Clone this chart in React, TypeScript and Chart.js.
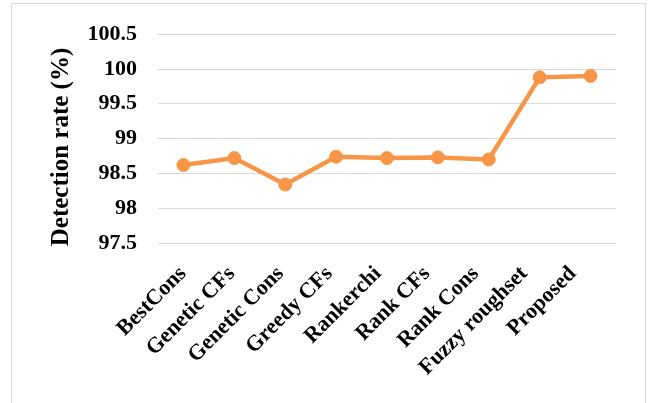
import React, { useEffect, useRef } from "react";
import { Chart, registerables } from "chart.js";

Chart.register(...registerables);

const categories = [
  "BestCons",
  "Genetic CFs",
  "Genetic Cons",
  "Greedy CFs",
  "Rankerchi",
  "Rank CFs",
  "Rank Cons",
  "Fuzzy roughset",
  "Proposed",
];
const detectionRate = [98.62, 98.72, 98.34, 98.74, 98.72, 98.73, 98.7, 99.88, 99.9];
const yTicks = [97.5, 98, 98.5, 99, 99.5, 100, 100.5];
const yTitle = "Detection rate (%)";

const FAMILY = "'Liberation Serif', 'Times New Roman', serif";

export default function App() {
  const ref = useRef<HTMLCanvasElement>(null);

  useEffect(() => {
    if (!ref.current) return;
    const titlePlugin = {
      id: "ytitle",
      afterDraw(chart: any) {
        const ctx = chart.ctx;
        ctx.save();
        ctx.translate(62, 147);
        ctx.rotate(-Math.PI / 2);
        ctx.font = `bold 25px ${FAMILY}`;
        ctx.fillStyle = "#000";
        ctx.textAlign = "center";
        ctx.textBaseline = "middle";
        ctx.fillText(yTitle, 0, 0);
        ctx.restore();
      },
    };
    const chart = new Chart(ref.current, {
      type: "line",
      data: {
        labels: categories,
        datasets: [
          {
            data: detectionRate,
            borderColor: "#F79646",
            backgroundColor: "#F79646",
            borderWidth: 4.5,
            pointRadius: 6.5,
            pointBorderWidth: 1,
            pointBackgroundColor: "#F79646",
            pointBorderColor: "#F79646",
            tension: 0,
            xAxisID: "x",
            yAxisID: "y",
          },
        ],
      },
      options: {
        responsive: false,
        animation: false,
        layout: { padding: { top: 32, right: 33, bottom: 0, left: 0 } },
        plugins: { legend: { display: false }, tooltip: { enabled: false } },
        scales: {
          x: { type: "category", display: false, offset: true },
          xl: {
            type: "linear",
            position: "bottom",
            min: -0.513,
            max: 8.882,
            grid: { display: false },
            border: { display: false },
            ticks: {
              stepSize: 1,
              includeBounds: false,
              autoSkip: false,
              minRotation: 45,
              maxRotation: 45,
              padding: 10,
              color: "#000",
              font: { family: FAMILY, size: 22, weight: "bold" },
              callback: (v: any) => categories[v] ?? "",
            },
            afterFit: (s: any) => {
              s.height = 160;
            },
          },
          y: {
            min: 97.5,
            max: 100.5,
            afterBuildTicks: (s: any) => {
              s.ticks = yTicks.map((v) => ({ value: v }));
            },
            grid: { color: "#D9D9D9", lineWidth: 1, drawTicks: false },
            border: { display: false },
            ticks: {
              padding: 21,
              color: "#000",
              font: { family: FAMILY, size: 22, weight: "bold" },
              callback: (v: any) => String(v),
            },
            afterFit: (s: any) => {
              s.width = 158;
            },
          },
        },
      } as any,
      plugins: [titlePlugin],
    });
    return () => chart.destroy();
  }, []);

  return (
    <div
      style={{
        position: "fixed",
        left: 0,
        top: 0,
        width: 649,
        height: 403,
        background: "#fff",
        overflow: "hidden",
      }}
    >
      <div
        style={{
          position: "absolute",
          left: 11,
          top: 3,
          width: 633,
          height: 420,
          border: "1px solid #D9D9D9",
        }}
      />
      <canvas
        ref={ref}
        width={649}
        height={403}
        style={{ position: "absolute", left: 0, top: 0, width: 649, height: 403 }}
      />
    </div>
  );
}
